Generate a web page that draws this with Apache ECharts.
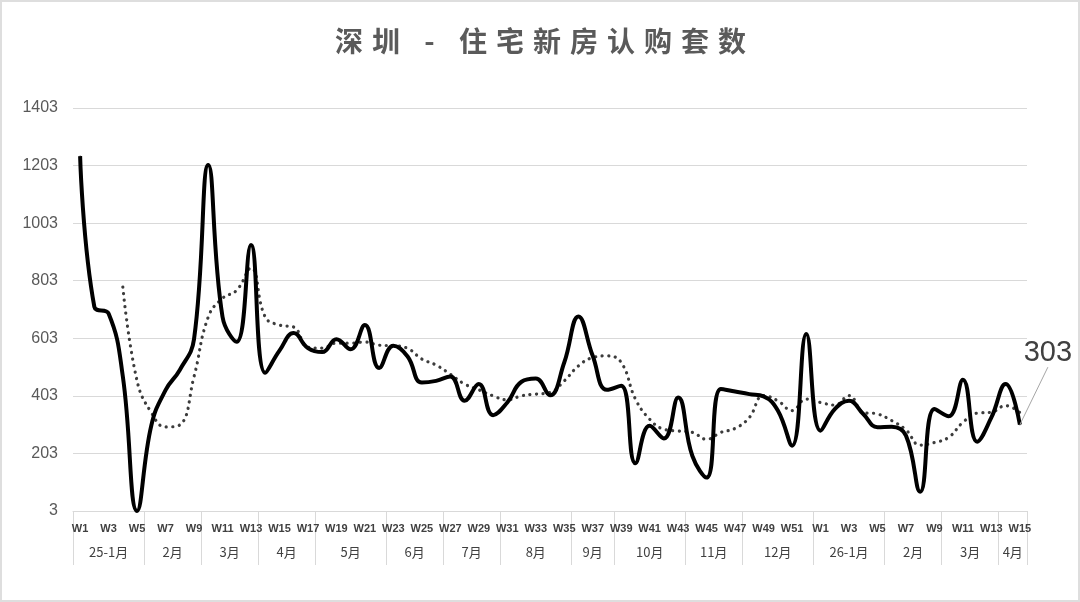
<!DOCTYPE html>
<html>
<head>
<meta charset="utf-8">
<script src="https://cdn.jsdelivr.net/npm/echarts@6/dist/echarts.min.js"></script>
<style>
html,body{margin:0;padding:0;background:#fff;}
#c{width:1080px;height:602px;}
#frame{position:absolute;left:0;top:0;width:1080px;height:602px;box-sizing:border-box;border:2px solid #dedede;pointer-events:none;}
</style>
</head>
<body>
<div id="c"></div>
<div id="frame"></div>
<script>
// ---- data ----
const titleText = '深圳 - 住宅新房认购套数';
const weeks = [
  'W1','W2','W3','W4','W5','W6','W7','W8','W9','W10','W11','W12','W13','W14','W15','W16','W17','W18','W19','W20',
  'W21','W22','W23','W24','W25','W26','W27','W28','W29','W30','W31','W32','W33','W34','W35','W36','W37','W38','W39','W40',
  'W41','W42','W43','W44','W45','W46','W47','W48','W49','W50','W51','W52',
  'W1','W2','W3','W4','W5','W6','W7','W8','W9','W10','W11','W12','W13','W14','W15'
];
const monthLabels = ['25-1月','2月','3月','4月','5月','6月','7月','8月','9月','10月','11月','12月','26-1月','2月','3月','4月'];
const monthWeekCounts = [5,4,4,4,5,4,4,5,3,5,4,5,5,4,4,2];
const subscriptions = [
  1236, 712, 689, 470, 3, 300, 423, 493, 600, 1205,
  678, 591, 927, 483, 560, 621, 569, 555, 600, 565,
  649, 500, 577, 540, 449, 455, 470, 386, 444, 336,
  380, 452, 463, 405, 519, 679, 542, 424, 438, 169,
  299, 255, 397, 194, 119, 427, 418, 409, 401, 352,
  230, 618,
  282, 357, 386, 340, 294, 296, 265, 70, 357, 332,
  459, 244, 328, 444, 303
];
const movingAvg4 = [
  null, null, null, 781, 455, 345, 295, 302, 470, 677,
  742, 770, 847, 677, 649, 642, 572, 569, 586, 586,
  590, 579, 577, 568, 531, 510, 478, 444, 424, 403,
  389, 403, 409, 415, 455, 507, 536, 542, 519, 392,
  322, 287, 281, 276, 252, 276, 290, 328, 404, 386,
  352, 392,
  380, 371, 404, 346, 340, 317, 285, 232, 241, 259,
  311, 343, 346, 369, 345
];
const yTicks = [3, 203, 403, 603, 803, 1003, 1203, 1403];

// ---- derived axis helpers ----
const bounds = [0];
monthWeekCounts.forEach(n => bounds.push(bounds[bounds.length - 1] + n));
const centers = monthWeekCounts.map((n, i) => (bounds[i] + bounds[i + 1]) / 2);

// letter spacing for the title only
const _ft = CanvasRenderingContext2D.prototype.fillText;
CanvasRenderingContext2D.prototype.fillText = function (t) {
  if (t === titleText) {
    const old = this.letterSpacing;
    this.letterSpacing = '9px';
    const r = _ft.apply(this, arguments);
    this.letterSpacing = old;
    return r;
  }
  return _ft.apply(this, arguments);
};

const lastIdx = subscriptions.length - 1;
const solidData = subscriptions.map((v, i) => i === lastIdx ? {
  value: v,
  label: {
    show: true, position: 'top', formatter: '{c}',
    fontSize: 29, color: '#404040', fontFamily: 'Liberation Sans, Arial, sans-serif'
  },
  labelLine: { show: true, lineStyle: { color: '#a6a6a6', width: 1 } }
} : v);

const chart = echarts.init(document.getElementById('c'), null, { renderer: 'canvas' });
chart.setOption({
  animation: false,
  backgroundColor: '#ffffff',
  title: {
    text: titleText,
    left: 540,
    textAlign: 'center',
    top: 22,
    textStyle: {
      fontSize: 28, fontWeight: 'bold', color: '#5a5a5a',
      fontFamily: '"Noto Sans CJK SC", sans-serif'
    }
  },
  grid: { left: 73, right: 53, top: 108, bottom: 91, containLabel: false, outerBoundsMode: 'none' },
  xAxis: [
    {
      type: 'category',
      data: weeks,
      position: 'bottom',
      boundaryGap: true,
      axisLine: { show: true, lineStyle: { color: '#d9d9d9', width: 1 } },
      axisTick: { show: false },
      axisLabel: {
        interval: 1, margin: 12, fontSize: 11, fontWeight: 'bold', color: '#404040',
        fontFamily: 'Liberation Sans, Arial, sans-serif'
      },
      splitLine: { show: false }
    },
    {
      type: 'value',
      position: 'bottom',
      min: 0,
      max: weeks.length,
      axisLine: { show: false },
      splitLine: { show: false },
      axisTick: {
        show: true, customValues: bounds, length: 54, inside: false,
        lineStyle: { color: '#d9d9d9', width: 1 }
      },
      axisLabel: {
        show: true, customValues: centers, margin: 35,
        fontSize: 13, color: '#404040',
        fontFamily: '"Noto Sans CJK SC", sans-serif',
        formatter: function (v) {
          let k = 0, best = Infinity;
          centers.forEach((c, i) => { if (Math.abs(c - v) < best) { best = Math.abs(c - v); k = i; } });
          return monthLabels[k];
        }
      }
    }
  ],
  yAxis: {
    type: 'value',
    min: yTicks[0],
    max: yTicks[yTicks.length - 1],
    interval: 200,
    axisLine: { show: false },
    axisTick: { show: false },
    axisLabel: {
      margin: 15, fontSize: 16, color: '#595959',
      fontFamily: 'Liberation Sans, Arial, sans-serif',
      formatter: function (v) { return String(Math.round(v)); }
    },
    splitLine: { lineStyle: { color: '#d9d9d9', width: 1 } }
  },
  series: [
    {
      name: '认购套数',
      type: 'line',
      data: solidData,
      xAxisIndex: 0,
      smooth: 0.45,
      symbol: 'circle',
      symbolSize: 1,
      showSymbol: true,
      itemStyle: { color: '#000000' },
      lineStyle: { color: '#000000', width: 4 },
      z: 3,
      labelLayout: { dx: 28, dy: -52 }
    },
    {
      name: '4周移动平均',
      type: 'line',
      data: movingAvg4,
      xAxisIndex: 0,
      smooth: 0.45,
      symbol: 'none',
      lineStyle: { color: '#3c3c3c', width: 3.2, type: [0.1, 6.5], cap: 'round' },
      z: 2
    }
  ]
});
</script>
</body>
</html>
